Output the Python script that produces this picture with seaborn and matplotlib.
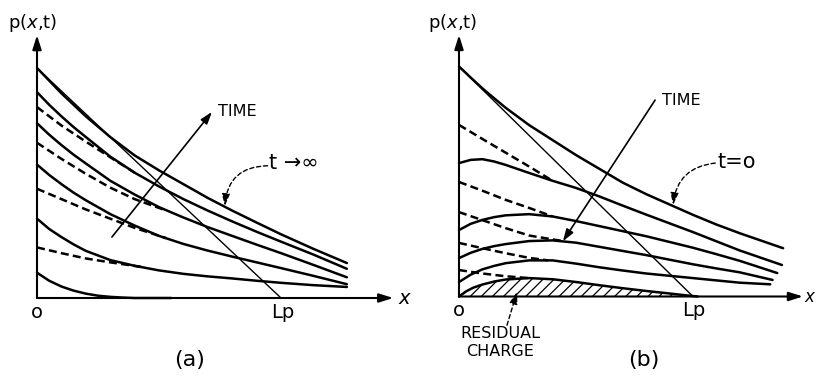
import matplotlib
matplotlib.use("Agg")
import matplotlib.pyplot as plt
import seaborn as sns

# Distance is measured in units of the diffusion length Lp, density p(x,t)
# is normalised to the surface value of the limiting profile.
LP = 1.0

# ---------------- (a) build-up of the injected charge ----------------
xa = [0, 0.05, 0.1, 0.15, 0.2, 0.3, 0.4, 0.5, 0.6, 0.7, 0.8, 0.9, 1.0, 1.13, 1.27]
a_t_inf = [1.00, 0.945, 0.89, 0.84, 0.79, 0.70, 0.62, 0.555, 0.495, 0.435, 0.38, 0.328, 0.277, 0.215, 0.152]
a_t4 = [0.895, 0.84, 0.79, 0.743, 0.70, 0.615, 0.545, 0.485, 0.43, 0.38, 0.333, 0.288, 0.245, 0.19, 0.127]
a_t3 = [0.76, 0.71, 0.665, 0.623, 0.585, 0.51, 0.45, 0.395, 0.35, 0.308, 0.27, 0.232, 0.195, 0.145, 0.09]
a_t2 = [0.58, 0.535, 0.495, 0.458, 0.425, 0.365, 0.315, 0.27, 0.235, 0.206, 0.18, 0.155, 0.13, 0.097, 0.06]
a_t1 = [0.345, 0.30, 0.265, 0.233, 0.205, 0.165, 0.14, 0.12, 0.105, 0.094, 0.085, 0.075, 0.066, 0.056, 0.048]
xa0 = [0, 0.05, 0.1, 0.15, 0.2, 0.25, 0.3, 0.35, 0.4, 0.55]
a_t0 = [0.11, 0.075, 0.05, 0.032, 0.019, 0.01, 0.005, 0.002, 0.0, 0.0]

a_dash_x = [
    [0, 0.1, 0.2, 0.3, 0.4],
    [0, 0.1, 0.2, 0.3, 0.4, 0.53],
    [0, 0.1, 0.2, 0.3, 0.4, 0.53],
    [0, 0.1, 0.2, 0.3, 0.43],
]
a_dash_p = [
    [0.83, 0.75, 0.68, 0.612, 0.545],
    [0.675, 0.605, 0.54, 0.48, 0.43, 0.38],
    [0.475, 0.43, 0.385, 0.345, 0.305, 0.26],
    [0.22, 0.195, 0.172, 0.155, 0.135],
]

# ---------------- (b) decay after the source is removed ----------------
xb = [0, 0.05, 0.1, 0.15, 0.2, 0.3, 0.4, 0.5, 0.6, 0.7, 0.8, 0.9, 1.0, 1.1, 1.2]
b_t0 = [1.0, 0.952, 0.905, 0.862, 0.82, 0.745, 0.68, 0.615, 0.555, 0.495, 0.445, 0.40, 0.355, 0.313, 0.275, 0.21]
b_t1 = [0.58, 0.594, 0.597, 0.587, 0.572, 0.537, 0.503, 0.472, 0.435, 0.395, 0.356, 0.318, 0.28, 0.24, 0.20, 0.137]
b_t2 = [0.289, 0.316, 0.333, 0.345, 0.353, 0.358, 0.348, 0.328, 0.306, 0.284, 0.262, 0.237, 0.212, 0.184, 0.155, 0.102]
b_t3 = [0.167, 0.19, 0.207, 0.219, 0.228, 0.241, 0.244, 0.234, 0.216, 0.198, 0.18, 0.16, 0.14, 0.122, 0.105, 0.072]
b_t4 = [0.063, 0.095, 0.118, 0.133, 0.145, 0.157, 0.157, 0.143, 0.127, 0.113, 0.10, 0.09, 0.08, 0.07, 0.06, 0.053]
b_ends = [1.385, 1.38, 1.36, 1.34, 1.33]
xb5 = [0, 0.03, 0.06, 0.1, 0.15, 0.2, 0.3, 0.4, 0.5, 0.6, 0.7, 0.8, 0.9, 0.97, 1.02]
b_residual = [0, 0.022, 0.038, 0.052, 0.065, 0.074, 0.08, 0.075, 0.063, 0.049, 0.036, 0.024, 0.013, 0.005, 0.0]

b_dash_x = [
    [0, 0.1, 0.2, 0.3, 0.4],
    [0, 0.1, 0.2, 0.3, 0.4],
    [0, 0.1, 0.2, 0.3, 0.45],
    [0, 0.1, 0.2, 0.3, 0.38],
    [0, 0.1, 0.2, 0.3],
]
b_dash_p = [
    [0.746, 0.685, 0.625, 0.565, 0.503],
    [0.498, 0.46, 0.42, 0.385, 0.348],
    [0.367, 0.332, 0.297, 0.265, 0.24],
    [0.233, 0.21, 0.188, 0.168, 0.157],
    [0.115, 0.10, 0.088, 0.08],
]

sns.set_theme(style="white")
plt.rcParams["font.family"] = ["DejaVu Sans"]
plt.rcParams["mathtext.fontset"] = "dejavusans"
plt.rcParams["hatch.linewidth"] = 0.9
plt.rcParams["text.color"] = "black"

INK = "black"
DASH = (0, (3.2, 1.7))

fig = plt.figure(figsize=(8.17, 3.79), dpi=100)
fig.patch.set_facecolor("white")
ax_a = fig.add_axes([0, 0, 408 / 817, 1])
ax_b = fig.add_axes([408 / 817, 0, 409 / 817, 1])
ax_a.set_xlim(-37 / 244, 371 / 244)
ax_a.set_ylim(-81 / 230, 298 / 230)
ax_b.set_xlim(-51 / 234, 358 / 234)
ax_b.set_ylim(-82.5 / 230, 296.5 / 230)
for ax in (ax_a, ax_b):
    ax.set_axis_off()


def curve(ax, x, p, dashed=False, lw=1.8):
    sns.lineplot(x=x, y=p, ax=ax, color=INK, linewidth=lw, estimator=None,
                 sort=False, legend=False)
    line = ax.lines[-1]
    line.set_linestyle(DASH if dashed else "-")
    line.set_solid_capstyle("round")


def axes_arrows(ax, x_end, y_end):
    head = dict(arrowstyle="-|>,head_length=0.7,head_width=0.22", color=INK,
                lw=1.5, mutation_scale=12, shrinkA=0, shrinkB=0)
    ax.annotate("", xy=(x_end, 0), xytext=(0, 0), arrowprops=head)
    ax.annotate("", xy=(0, y_end), xytext=(0, 0), arrowprops=head)


def pointer(ax, start, tip, dashed=False, rad=0.0, lw=1.2):
    props = dict(arrowstyle="-|>,head_length=0.6,head_width=0.2", color=INK,
                 lw=lw, mutation_scale=12, shrinkA=0, shrinkB=0,
                 connectionstyle=f"arc3,rad={rad}")
    if dashed:
        props["linestyle"] = (0, (3, 2))
    ax.annotate("", xy=tip, xytext=start, arrowprops=props)


# ---------------- draw (a) ----------------
axes_arrows(ax_a, 1.46, 1.143)
for p in (a_t_inf, a_t4, a_t3, a_t2, a_t1):
    curve(ax_a, xa, p)
curve(ax_a, xa0, a_t0)
for x, p in zip(a_dash_x, a_dash_p):
    curve(ax_a, x, p, dashed=True)
curve(ax_a, [0, LP], [a_t_inf[0], 0], lw=1.0)

pointer(ax_a, (0.307, 0.265), (0.717, 0.809))
ax_a.text(0.74, 0.81, "TIME", fontsize=11.5, ha="left", va="center")
ax_a.text(0.952, 0.587, "t →∞", fontsize=15, ha="left", va="center")
pointer(ax_a, (0.945, 0.575), (0.77, 0.40), dashed=True, rad=0.45, lw=1.0)

ax_a.text(-0.119, 1.196, r"p($x$,t)", fontsize=13, ha="left", va="center")
ax_a.text(1.48, 0.0, r"$x$", fontsize=14, ha="left", va="center")
ax_a.text(0.0, -0.065, "o", fontsize=14, ha="center", va="center")
ax_a.text(LP + 0.008, -0.065, "Lp", fontsize=14, ha="center", va="center")
ax_a.text(0.627, -0.268, "(a)", fontsize=16, ha="center", va="center")

# ---------------- draw (b) ----------------
axes_arrows(ax_b, 1.47, 1.137)
ax_b.fill_between(xb5, 0, b_residual, facecolor="none", edgecolor=INK,
                  hatch="///", linewidth=0)
for p, end in zip((b_t0, b_t1, b_t2, b_t3, b_t4), b_ends):
    curve(ax_b, xb + [end], p)
curve(ax_b, xb5, b_residual)
for x, p in zip(b_dash_x, b_dash_p):
    curve(ax_b, x, p, dashed=True)
curve(ax_b, [0, LP], [b_t0[0], 0], lw=1.0)

pointer(ax_b, (0.838, 0.854), (0.444, 0.24))
ax_b.text(0.868, 0.854, "TIME", fontsize=11.5, ha="left", va="center")
ax_b.text(1.103, 0.585, "t=o", fontsize=15, ha="left", va="center")
pointer(ax_b, (1.095, 0.58), (0.915, 0.398), dashed=True, rad=0.4, lw=1.0)

pointer(ax_b, (0.205, -0.125), (0.248, 0.02), dashed=True, lw=1.0)
ax_b.text(0.175, -0.2, "RESIDUAL\nCHARGE", fontsize=11.5, ha="center",
          va="center", linespacing=1.2)

ax_b.text(-0.132, 1.189, r"p($x$,t)", fontsize=13, ha="left", va="center")
ax_b.text(1.476, 0.0, r"$x$", fontsize=12, ha="left", va="center")
ax_b.text(0.0, -0.063, "o", fontsize=14, ha="center", va="center")
ax_b.text(LP + 0.004, -0.063, "Lp", fontsize=14, ha="center", va="center")
ax_b.text(0.79, -0.276, "(b)", fontsize=16, ha="center", va="center")

fig.savefig("out.png", dpi=100, facecolor="white")
